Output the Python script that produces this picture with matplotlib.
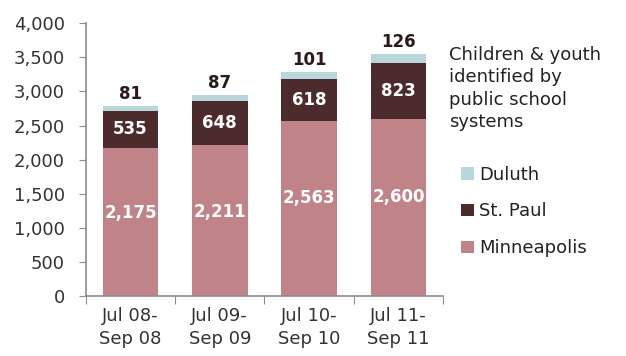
import matplotlib
matplotlib.use("Agg")
import matplotlib.pyplot as plt
import numpy as np

# data
periods = ["Jul 08-\nSep 08", "Jul 09-\nSep 09", "Jul 10-\nSep 10", "Jul 11-\nSep 11"]
minneapolis = [2175, 2211, 2563, 2600]
st_paul = [535, 648, 618, 823]
duluth = [81, 87, 101, 126]

plt.rcParams['font.family'] = ['DejaVu Sans']

c_mpls = "#BF8388"
c_stp = "#4B2B2C"
c_dul = "#B9D7DB"
c_axis = "#8C8C8C"
c_text = "#333333"

fig = plt.figure(figsize=(6.26, 3.56), dpi=100)
ax = fig.add_axes([0.137, 0.168, 0.571, 0.767])

x = np.arange(len(periods))
w = 0.62
mp = np.array(minneapolis)
sp = np.array(st_paul)
du = np.array(duluth)

ax.bar(x, mp, w, color=c_mpls, label="Minneapolis")
ax.bar(x, sp, w, bottom=mp, color=c_stp, label="St. Paul")
ax.bar(x, du, w, bottom=mp + sp, color=c_dul, label="Duluth")

for i in range(len(x)):
    ax.text(x[i], mp[i] * 0.56, f"{mp[i]:,}", ha="center", va="center",
            color="white", fontsize=12, fontweight="bold")
    ax.text(x[i], mp[i] + sp[i] / 2, f"{sp[i]:,}", ha="center", va="center",
            color="white", fontsize=12, fontweight="bold")
    ax.text(x[i], mp[i] + sp[i] + du[i] + 40, f"{du[i]:,}", ha="center", va="bottom",
            color="#2a1a1a", fontsize=12, fontweight="bold")

ax.set_xlim(-0.5, len(x) - 0.5)
ax.set_ylim(0, 4000)
ax.set_yticks(range(0, 4001, 500))
ax.set_yticklabels([f"{v:,}" for v in range(0, 4001, 500)])

# category ticks sit at the boundaries, labels centred under bars
ax.set_xticks(np.arange(-0.5, len(x), 1.0))
ax.set_xticklabels([])
ax.set_xticks(x, minor=True)
ax.set_xticklabels(periods, minor=True, linespacing=1.3)
ax.tick_params(axis="x", which="minor", length=0, pad=8, labelsize=13, colors=c_text)
ax.tick_params(axis="x", which="major", length=6, color=c_axis, direction="out")
ax.tick_params(axis="y", length=5, color=c_axis, labelsize=13, labelcolor=c_text, pad=10)

for s in ["top", "right"]:
    ax.spines[s].set_visible(False)
for s in ["left", "bottom"]:
    ax.spines[s].set_color(c_axis)
    ax.spines[s].set_linewidth(1.2)

handles, labels = ax.get_legend_handles_labels()
leg = fig.legend(handles[::-1], labels[::-1], loc="upper left",
                 bbox_to_anchor=(0.737, 0.535), frameon=False, fontsize=13,
                 handlelength=0.7, handleheight=0.7, handletextpad=0.3,
                 labelspacing=1.05, labelcolor="#222222", borderaxespad=0,
                 borderpad=0)
fig.text(0.718, 0.87, "Children & youth\nidentified by\npublic school\nsystems",
         ha="left", va="top", fontsize=13, color="#222222", linespacing=1.3)

fig.savefig("out.png", dpi=100)
